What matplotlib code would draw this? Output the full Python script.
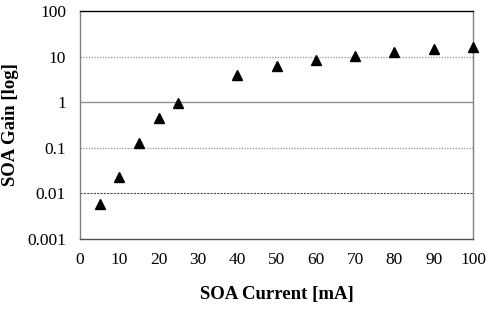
import matplotlib
matplotlib.use("Agg")
from matplotlib import pyplot as plt

current = [5, 10, 15, 20, 25, 40, 50, 60, 70, 80, 90, 100]
gain = [0.0058, 0.023, 0.125, 0.44, 0.98, 4.0, 6.2, 8.4, 10.5, 12.6, 14.5, 16.0]

plt.rcParams['font.family'] = ['Liberation Serif', 'DejaVu Serif']

fig = plt.figure(figsize=(4.87, 3.10), dpi=100)
ax = fig.add_axes([80/487, 1-239/310, (473-80)/487, (239-11)/310])

ax.set_yscale('log')
ax.set_ylim(0.001, 100)
ax.set_xlim(0, 100)

# gridlines, styled like the original
ax.axhline(10, color='#a0a0a0', lw=1, ls=(0, (1, 1)), zorder=0)
ax.axhline(1, color='#909090', lw=1, zorder=0)
ax.axhline(0.1, color='#a0a0a0', lw=1, ls=(0, (1, 1)), zorder=0)
ax.axhline(0.01, color='#505050', lw=0.8, ls=(0, (2, 1)), zorder=0)

ax.plot(current, gain, ls='none', marker='^', color='black', markersize=7, clip_on=False, zorder=3)

ax.set_xticks(range(0, 101, 10))
ax.set_yticks([0.001, 0.01, 0.1, 1, 10, 100])
ax.set_yticklabels(['0.001', '0.01', '0.1', '1', '10', '100'])
ax.minorticks_off()
ax.tick_params(length=0, labelsize=12.5)
ax.tick_params(axis='x', pad=9)
ax.tick_params(axis='y', pad=10)

ax.spines['top'].set_color('black')
ax.spines['left'].set_color('#808080')
ax.spines['right'].set_color('#808080')
ax.spines['bottom'].set_color('#505050')
for s in ax.spines.values():
    s.set_linewidth(1)

ax.set_xlabel('SOA Current [mA]', fontsize=13.5, fontweight='bold', labelpad=13)
ax.set_ylabel('SOA Gain [log]', fontsize=13.5, fontweight='bold', labelpad=6)

plt.savefig('out.png', dpi=100)
